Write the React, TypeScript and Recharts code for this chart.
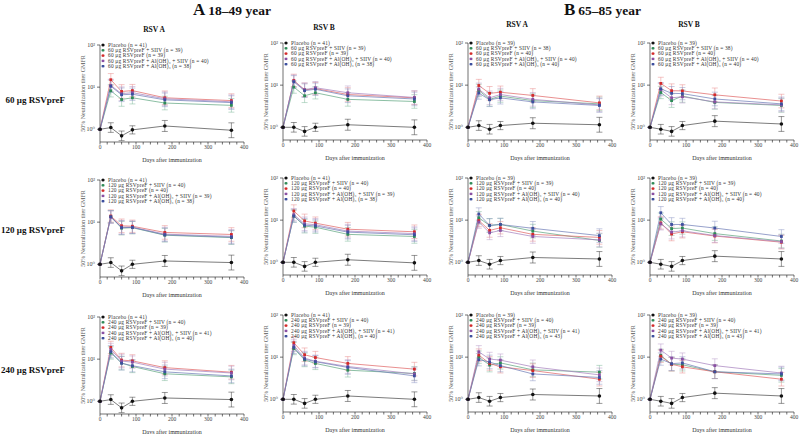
import { LineChart, Line, XAxis, YAxis, ErrorBar, Legend } from "recharts";

const FONT = "'Liberation Serif', 'DejaVu Serif', serif";

// sampling days and dose rows
const DAYS = [0, 30, 60, 90, 180, 365];
const DOSES = ["60", "120", "240"];
const X_TICKS = [0, 20, 40, 60, 80, 100, 120, 140, 160, 180, 200, 220, 240, 260, 280, 300, 320, 340, 360, 380, 400];
const Y_TICKS = [1, 10, 100];
const Y_TICK_LABELS = ["10⁰", "10¹", "10²"];

// group order: placebo, +SIIV, alone, +Al(OH)3+SIIV, +Al(OH)3
const GROUP_SUFFIX = ["", " + SIIV", "", " + Al(OH)₃ + SIIV", " + Al(OH)₃"];
const COLORS = ["#111111", "#2e8b57", "#d42a2a", "#8a4fa3", "#3d4f9e"];
const LINE_COLORS = ["#444444", "#5aa47c", "#e06060", "#a47cbb", "#6a78b4"];
const BAR_COLORS = ["#333333", "#7fb99a", "#e88a8a", "#b99ac8", "#8c96c4"];

// approximate 95% CI fold factors
const VACCINE_CI = [1, 1.4, 1.45, 1.4, 1.45, 1.45];
const PLACEBO_CI = [1, 1.3, 1.3, 1.25, 1.35, 1.5];

// GMFR values, 18–49 year
const young60A = [
  [1, 1.1, 0.7, 0.97, 1.2, 0.95],
  [1, 8.2, 5.1, 5.6, 4.2, 3.7],
  [1, 15, 7.9, 8.3, 5.6, 4.8],
  [1, 11, 7.0, 7.4, 5.3, 4.5],
  [1, 10.5, 6.6, 6.8, 5.0, 4.3],
];
const young60B = [
  [1, 1.0, 0.8, 1.0, 1.15, 1.0],
  [1, 9, 5.6, 6.6, 4.6, 4.1],
  [1, 13, 7.7, 8.3, 6.0, 5.0],
  [1, 12.5, 7.8, 8.7, 6.6, 5.1],
  [1, 12, 7.4, 8.0, 5.6, 4.7],
];
const young120A = [
  [1, 1.1, 0.7, 1.0, 1.2, 1.1],
  [1, 13.5, 7.2, 7.4, 4.9, 4.3],
  [1, 14, 8.2, 8.0, 5.7, 5.1],
  [1, 13, 7.6, 7.6, 5.2, 4.6],
  [1, 13.5, 7.4, 7.5, 5.0, 4.4],
];
const young120B = [
  [1, 1.0, 0.8, 1.0, 1.15, 0.97],
  [1, 12.5, 7.2, 6.8, 4.6, 4.1],
  [1, 16.5, 9.6, 8.5, 6.1, 5.3],
  [1, 13.5, 8.2, 7.8, 5.5, 4.8],
  [1, 12.5, 7.6, 7.3, 5.2, 4.5],
];
const young240A = [
  [1, 1.1, 0.7, 1.0, 1.2, 1.1],
  [1, 14, 8.1, 6.7, 4.5, 3.8],
  [1, 19, 9.5, 9.1, 6.3, 4.9],
  [1, 17, 9.0, 8.5, 5.8, 4.7],
  [1, 15, 8.0, 7.0, 5.0, 4.0],
];
const young240B = [
  [1, 1.0, 0.8, 1.0, 1.2, 1.0],
  [1, 16, 8.6, 7.1, 4.9, 4.1],
  [1, 22, 11.4, 9.8, 7.1, 5.2],
  [1, 19, 9.5, 8.0, 6.0, 4.0],
  [1, 17, 9.0, 7.8, 5.7, 3.6],
];

// GMFR values, 65–85 year
const old60A = [
  [1, 1.1, 0.9, 1.1, 1.25, 1.15],
  [1, 7.5, 4.6, 5.5, 4.3, 3.6],
  [1, 9.8, 6.4, 6.8, 5.7, 3.8],
  [1, 8, 5.0, 6.0, 4.6, 3.4],
  [1, 6.5, 4.5, 5.0, 4.0, 3.3],
];
const old60B = [
  [1, 0.9, 0.8, 1.1, 1.4, 1.2],
  [1, 6.7, 4.3, 5.5, 3.9, 3.3],
  [1, 11, 7.4, 7.3, 5.9, 4.2],
  [1, 7.8, 5.0, 5.3, 4.0, 3.4],
  [1, 8.2, 6.4, 6.3, 4.7, 3.6],
];
const old120A = [
  [1, 1.1, 0.9, 1.1, 1.3, 1.2],
  [1, 11.4, 7.5, 7.9, 5.5, 3.3],
  [1, 9.8, 5.7, 6.6, 4.6, 3.9],
  [1, 9, 5.0, 5.7, 4.1, 3.4],
  [1, 14, 7.5, 7.9, 6.4, 4.3],
];
const old120B = [
  [1, 0.9, 0.8, 1.1, 1.4, 1.2],
  [1, 10.6, 6.3, 6.5, 4.8, 3.2],
  [1, 8.6, 4.7, 5.3, 4.2, 3.0],
  [1, 8.2, 5.2, 5.6, 4.3, 3.1],
  [1, 15, 7.9, 7.9, 6.5, 4.1],
];
const old240A = [
  [1, 1.1, 0.9, 1.1, 1.3, 1.2],
  [1, 10, 6.5, 7.3, 5.0, 4.4],
  [1, 11.2, 7.1, 5.9, 4.8, 3.0],
  [1, 13.4, 9.0, 8.5, 5.9, 3.8],
  [1, 8.7, 7.7, 6.3, 4.0, 3.3],
];
const old240B = [
  [1, 0.9, 0.8, 1.1, 1.4, 1.2],
  [1, 11, 6.8, 6.6, 4.5, 3.7],
  [1, 10.5, 6.8, 5.9, 4.5, 3.0],
  [1, 14.7, 9.5, 9.0, 6.3, 4.2],
  [1, 9, 7.0, 7.3, 4.5, 4.0],
];

// group sizes
const nYoung60 = [41, 39, 39, 40, 38];
const nYoung120 = [41, 40, 40, 39, 38];
const nYoung240 = [41, 40, 39, 41, 40];
const nOld60 = [39, 38, 40, 40, 40];
const nOld120 = [39, 39, 40, 40, 40];
const nOld240 = [39, 40, 39, 41, 43];

const PANELS = [
  { row: 0, col: 0, values: young60A, n: nYoung60 },
  { row: 0, col: 1, values: young60B, n: nYoung60 },
  { row: 0, col: 2, values: old60A, n: nOld60 },
  { row: 0, col: 3, values: old60B, n: nOld60 },
  { row: 1, col: 0, values: young120A, n: nYoung120 },
  { row: 1, col: 1, values: young120B, n: nYoung120 },
  { row: 1, col: 2, values: old120A, n: nOld120 },
  { row: 1, col: 3, values: old120B, n: nOld120 },
  { row: 2, col: 0, values: young240A, n: nYoung240 },
  { row: 2, col: 1, values: young240B, n: nYoung240 },
  { row: 2, col: 2, values: old240A, n: nOld240 },
  { row: 2, col: 3, values: old240B, n: nOld240 },
];

// layout
const COL_LEFT = [100, 283, 468, 650];
const COL_SHIFT = [2, 0, 0, 0];
const ROW_TOP = [43, 178, 315];
const PLOT_W = 144;
const PLOT_H = 97;
const AXIS_W = 40;
const TOP_PAD = 10;

function groupLabel(dose: string, s: number) {
  return s === 0 ? "Placebo" : `${dose} μg RSVpreF${GROUP_SUFFIX[s]}`;
}

function PanelLegend({ dose, n }: { dose: string; n: number[] }) {
  return (
    <svg width={150} height={30} style={{ overflow: "visible" }}>
      {n.map((cnt, s) => {
        const y = 4 + s * 5.3;
        return (
          <g key={s}>
            <line x1={0} x2={4} y1={y} y2={y} stroke={LINE_COLORS[s]} strokeWidth={0.5} />
            {s === 0 ? (
              <circle cx={2} cy={y} r={1.5} fill={COLORS[s]} />
            ) : (
              <rect x={0.8} y={y - 1.2} width={2.4} height={2.4} fill={COLORS[s]} />
            )}
            <text x={7} y={y + 1.7} fontSize={5.4} letterSpacing={0.2} fill="#333" fontFamily={FONT}>
              {`${groupLabel(dose, s)} (n = ${cnt})`}
            </text>
          </g>
        );
      })}
    </svg>
  );
}

function Panel({ values, n, dose, left, top }: any) {
  const data = DAYS.map((day, i) => {
    const pt: any = { day };
    values.forEach((arr: number[], s: number) => {
      const v = arr[i];
      const f = (s === 0 ? PLACEBO_CI : VACCINE_CI)[i];
      pt[`s${s}`] = v;
      pt[`e${s}`] = i === 0 ? undefined : [v - v / f, v * f - v];
    });
    return pt;
  });
  const order = [1, 2, 3, 4, 0];

  return (
    <div style={{ position: "absolute", left: left - AXIS_W, top: top - TOP_PAD }}>
      <LineChart
        width={AXIS_W + PLOT_W + 8}
        height={TOP_PAD + PLOT_H + 24}
        data={data}
        margin={{ top: TOP_PAD, right: 8, left: 0, bottom: 0 }}
      >
        <XAxis
          dataKey="day"
          type="number"
          domain={[0, 400]}
          ticks={X_TICKS}
          interval={0}
          tickFormatter={(v: number) => (v % 100 === 0 ? String(v) : "")}
          tickSize={2.5}
          tickMargin={1}
          height={24}
          stroke="#333"
          strokeWidth={0.7}
          tick={{ fontSize: 5.5, fill: "#444", fontFamily: FONT }}
          label={{
            value: "Days after immunization",
            position: "insideBottom",
            offset: 4,
            fontSize: 6,
            fill: "#333",
            fontFamily: FONT,
          }}
        />
        <YAxis
          type="number"
          scale="log"
          domain={[0.5, 100]}
          allowDataOverflow
          ticks={Y_TICKS}
          tickFormatter={(v: number) => Y_TICK_LABELS[Y_TICKS.indexOf(v)] ?? ""}
          width={AXIS_W}
          tickSize={3}
          tickMargin={2}
          stroke="#333"
          strokeWidth={0.7}
          tick={{ fontSize: 6, fill: "#444", fontFamily: FONT }}
          label={{
            value: "50% Neutralization titer GMFR",
            angle: -90,
            position: "center",
            dx: 3,
            fontSize: 6,
            fill: "#555",
            fontFamily: FONT,
          }}
        />
        <Legend
          layout="vertical"
          align="center"
          verticalAlign="middle"
          wrapperStyle={{ left: AXIS_W + 1, top: 6, width: 150 }}
          content={() => <PanelLegend dose={dose} n={n} />}
        />
        {order.map((s) => (
          <Line
            key={s}
            dataKey={`s${s}`}
            stroke={LINE_COLORS[s]}
            strokeWidth={0.7}
            isAnimationActive={false}
            dot={(p: any) =>
              s === 0 ? (
                <circle key={`d${s}-${p.index}`} cx={p.cx} cy={p.cy} r={1.8} fill={COLORS[s]} />
              ) : (
                <rect key={`d${s}-${p.index}`} x={p.cx - 1.4} y={p.cy - 1.4} width={2.8} height={2.8} fill={COLORS[s]} />
              )
            }
            activeDot={false}
          >
            <ErrorBar dataKey={`e${s}`} direction="y" width={3} stroke={BAR_COLORS[s]} strokeWidth={0.5} isAnimationActive={false} />
          </Line>
        ))}
      </LineChart>
    </div>
  );
}

export default function App() {
  return (
    <div
      style={{
        position: "absolute",
        left: 0,
        top: 0,
        width: 800,
        height: 434,
        background: "#fff",
        fontFamily: FONT,
      }}
    >
      <svg width={800} height={434} style={{ position: "absolute", left: 0, top: 0 }}>
        <text x={193} y={15} fontFamily={FONT} fontWeight="bold" fill="#111">
          <tspan fontSize={17}>A</tspan>
          <tspan fontSize={13.5} dx={3}>18–49 year</tspan>
        </text>
        <text x={564} y={15} fontFamily={FONT} fontWeight="bold" fill="#111">
          <tspan fontSize={17}>B</tspan>
          <tspan fontSize={13.5} dx={3}>65–85 year</tspan>
        </text>
        {["RSV A", "RSV B", "RSV A", "RSV B"].map((t, c) => (
          <text
            key={c}
            x={COL_LEFT[c] + (c === 0 ? 54 : c === 1 ? 41 : c === 2 ? 49 : 39)}
            y={[32, 30, 27, 27][c]}
            textAnchor="middle"
            fontSize={7.5}
            fontWeight="bold"
            fontFamily={FONT}
            fill="#111"
          >
            {t}
          </text>
        ))}
        {DOSES.map((d, r) => (
          <text
            key={d}
            x={65}
            y={[103, 233, 373][r]}
            textAnchor="end"
            fontSize={9}
            fontWeight="bold"
            fontFamily={FONT}
            fill="#111"
          >
            {`${d} μg RSVpreF`}
          </text>
        ))}
      </svg>
      {PANELS.map((p, i) => (
        <Panel
          key={i}
          values={p.values}
          n={p.n}
          dose={DOSES[p.row]}
          left={COL_LEFT[p.col]}
          top={ROW_TOP[p.row] + COL_SHIFT[p.col]}
        />
      ))}
    </div>
  );
}
